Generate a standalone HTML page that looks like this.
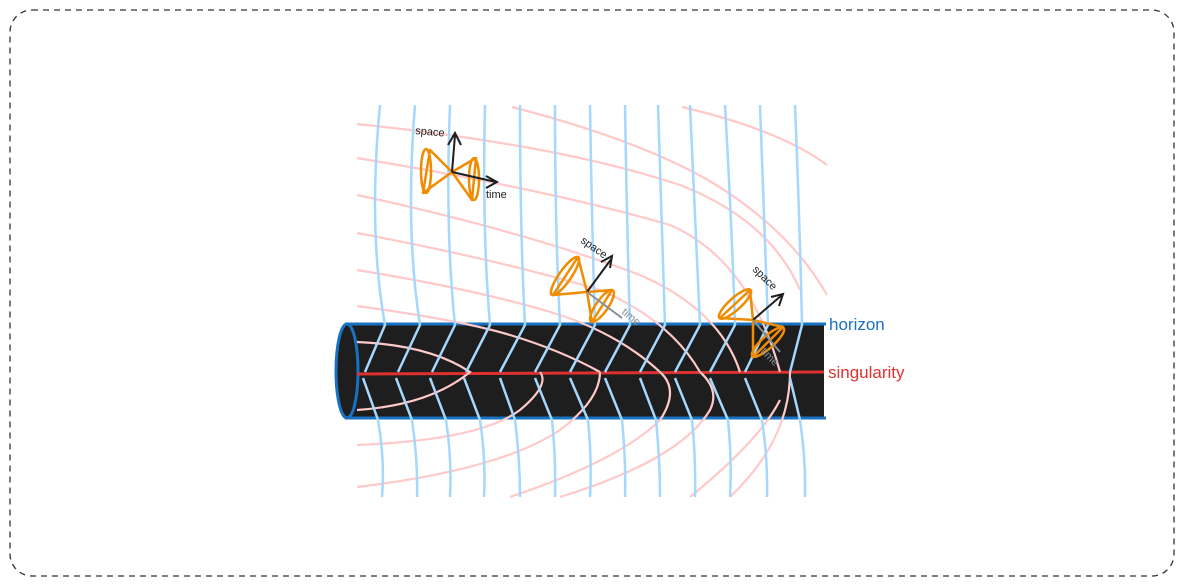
<!DOCTYPE html>
<html><head><style>
body{margin:0;width:1184px;height:586px;background:#fff;overflow:hidden}
svg{position:absolute;left:0;top:0}
text{font-family:"Liberation Sans",sans-serif}
</style></head><body>
<svg width="1184" height="586" viewBox="0 0 1184 586">
<rect x="10" y="10" width="1164" height="566" rx="22" fill="none" stroke="#333" stroke-dasharray="6 5" stroke-width="1.3"/>
<rect x="348" y="324" width="476" height="94" fill="#1e1e1e"/>
<line x1="345" y1="324" x2="826" y2="324" stroke="#1971c2" stroke-width="3"/>
<line x1="345" y1="418" x2="826" y2="418" stroke="#1971c2" stroke-width="3"/>
<ellipse cx="347" cy="371" rx="11" ry="47" fill="#1e1e1e" stroke="#1971c2" stroke-width="3"/>
<line x1="357" y1="374" x2="824" y2="372" stroke="#e03131" stroke-width="3"/>
<g fill="none" stroke="#ffc9c9" stroke-width="2.2">
<path d="M357 124 Q560 145 680 185 Q770 220 800 290"/>
<path d="M357 158 Q550 190 670 225 Q750 260 780 372"/>
<path d="M357 195 Q520 230 640 275 Q720 310 740 372"/>
<path d="M357 233 Q500 260 600 290 Q670 320 700 372"/>
<path d="M357 270 Q480 290 560 315 Q620 335 660 372"/>
<path d="M357 306 Q460 320 510 335 Q560 350 600 372"/>
<path d="M357 342 Q430 345 470 372 Q430 405 357 410"/>
<path d="M357 445 Q480 440 520 410 Q550 385 540 372"/>
<path d="M357 487 Q500 470 560 430 Q600 400 600 372"/>
<path d="M510 497 Q620 460 660 420 Q680 390 660 372"/>
<path d="M560 497 Q680 460 710 410 Q720 390 700 372"/>
<path d="M690 497 Q760 440 780 400"/>
<path d="M730 497 Q790 440 790 372"/>
<path d="M512 107 Q640 140 713 183 Q790 230 827 295"/>
<path d="M682 107 Q780 130 827 165"/>
</g>
<g fill="none" stroke="#a5d8ff" stroke-width="2.5">
<path d="M380 105 Q368 230 385 325 L365 372 M363 378 L378 420 Q385 460 382 497"/>
<path d="M415 105 Q405 230 420 325 L398 372 M396 378 L412 420 Q418 460 417 497"/>
<path d="M450 105 Q445 230 455 325 L432 372 M430 378 L446 420 Q452 460 450 497"/>
<path d="M485 105 Q482 230 490 325 L466 372 M464 378 L480 420 Q486 460 484 497"/>
<path d="M520 105 Q520 230 525 325 L500 372 M500 378 L515 420 Q520 460 520 497"/>
<path d="M555 105 Q555 230 560 325 L535 372 M535 378 L552 420 Q556 460 555 497"/>
<path d="M590 105 Q592 230 595 325 L570 372 M570 378 L588 420 Q592 460 590 497"/>
<path d="M625 105 Q627 230 630 325 L605 372 M605 378 L622 420 Q626 460 625 497"/>
<path d="M658 105 Q662 230 665 325 L640 372 M640 378 L656 420 Q660 460 660 497"/>
<path d="M690 105 Q696 230 700 325 L675 372 M675 378 L692 420 Q696 460 695 497"/>
<path d="M725 105 Q732 230 735 325 L710 372 M710 378 L728 420 Q732 460 730 497"/>
<path d="M760 105 Q765 230 768 325 L745 372 M745 378 L762 420 Q768 460 767 497"/>
<path d="M795 105 Q800 230 802 325 L790 372 M790 378 L800 420 Q806 460 805 497"/>
</g>
<g fill="none" stroke-width="2.5" stroke-linejoin="round" stroke="#f08c00">
<path d="M452 172 L430 150 L423 193 Z M452 172 L476 158 L472 200 Z"/>
<ellipse cx="426" cy="171" rx="5" ry="22"/>
<ellipse cx="474" cy="179" rx="5" ry="21"/>
<path d="M587 292 L578 257 L553 295 Z M587 292 L612 290 L592 322 Z"/>
<ellipse cx="565" cy="276" rx="6" ry="23" transform="rotate(35 565 276)"/>
<ellipse cx="602" cy="306" rx="6" ry="19" transform="rotate(35 602 306)"/>
<path d="M753 320 L750 290 L720 318 Z M753 320 L783 327 L753 357 Z"/>
<ellipse cx="735" cy="304" rx="6" ry="21" transform="rotate(48 735 304)"/>
<ellipse cx="768" cy="342" rx="6" ry="21" transform="rotate(48 768 342)"/>
</g>
<g fill="none" stroke-width="2">
<path d="M452 172 L455 135 M448 145 L455 133 L461 145 M452 172 L496 182 M486 176 L497 182 L486 188" stroke="#1e1e1e"/>
<path d="M587 292 L612 258 M601 262 L612 256 L610 268" stroke="#1e1e1e"/>
<path d="M587 292 L622 318" stroke="#868e96"/>
<path d="M753 320 L782 295 M771 297 L783 294 L779 306" stroke="#1e1e1e"/>
<path d="M753 320 L780 352" stroke="#868e96"/>
</g>
<g font-size="11" fill="#1e1e1e">
<text x="415" y="134" transform="rotate(5 415 134)">space</text>
<text x="486" y="198">time</text>
<text x="580" y="242" transform="rotate(35 580 242)">space</text>
<text x="621" y="313" fill="#868e96" transform="rotate(40 621 313)">time</text>
<text x="752" y="270" transform="rotate(45 752 270)">space</text>
<text x="760" y="352" fill="#868e96" transform="rotate(45 760 352)">time</text>
</g>
<text x="829" y="330" font-size="17" fill="#1971c2">horizon</text>
<text x="828" y="378" font-size="17" fill="#e03131">singularity</text>
</svg>
</body></html>
